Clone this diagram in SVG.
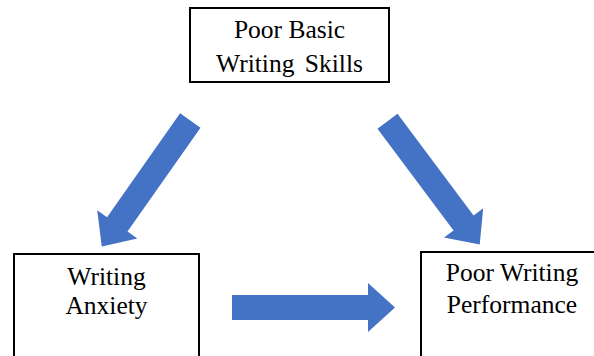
<svg xmlns="http://www.w3.org/2000/svg" width="594" height="356" viewBox="0 0 594 356">
<defs>
<style>
.box{fill:#fff;stroke:#000;stroke-width:2}
.lbl{font-family:"Liberation Serif","Times New Roman",serif;font-size:25.5px;fill:#000;text-anchor:middle}
.arr{fill:#4472C4}
</style>
<path id="arrowShape" d="M0,-12.5 H127 V-24.5 L154,0 L127,24.5 V12.5 H0 Z"/>
</defs>
<rect width="594" height="356" fill="#fff"/>
<g id="node-basic">
<rect class="box" x="190" y="8" width="199" height="74"/>
<text class="lbl" x="289.5" y="38">Poor Basic</text>
<text class="lbl" x="289.5" y="72" word-spacing="4">Writing Skills</text>
</g>
<g id="node-anxiety">
<rect class="box" x="14" y="254" width="185" height="120"/>
<text class="lbl" x="106.5" y="285">Writing</text>
<text class="lbl" x="106.5" y="314">Anxiety</text>
</g>
<g id="node-performance">
<rect class="box" x="421" y="252" width="190" height="120"/>
<text class="lbl" x="512" y="281">Poor Writing</text>
<text class="lbl" x="512" y="313">Performance</text>
</g>
<g id="connectors">
<use class="arr" href="#arrowShape" transform="translate(190.3,120.5) rotate(125.1)"/>
<use class="arr" href="#arrowShape" transform="translate(387.5,121.2) rotate(53.2)"/>
<path class="arr" d="M232,295 H368 V283 L395,307.5 L368,332 V320 H232 Z"/>
</g>
</svg>
